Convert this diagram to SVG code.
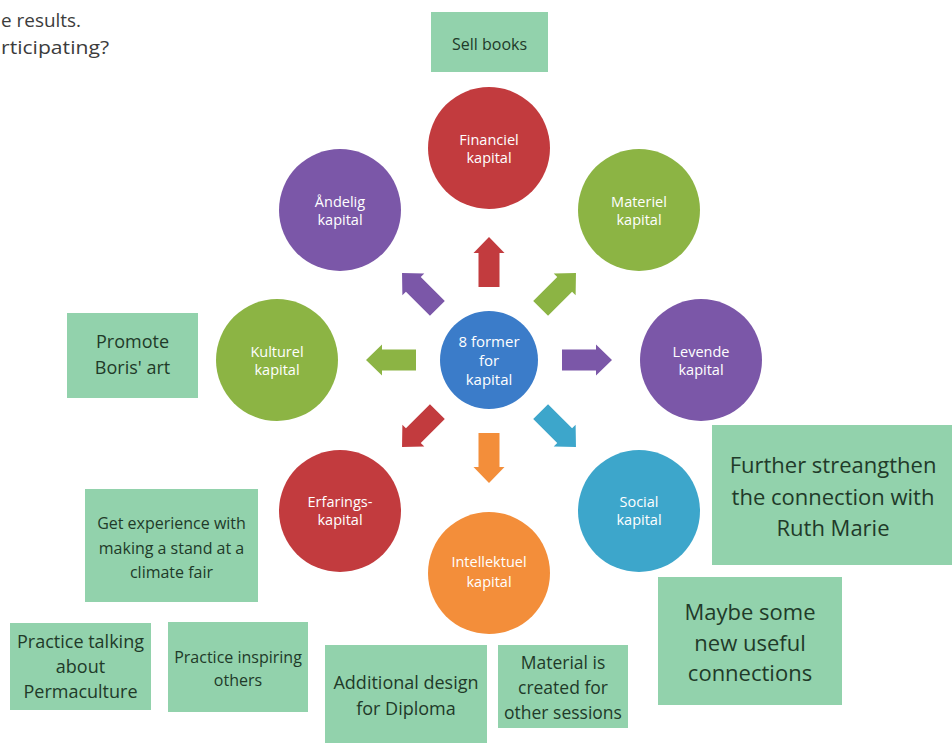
<svg xmlns="http://www.w3.org/2000/svg" width="952" height="744" viewBox="0 0 952 744">
<style>
.ct{font-family:"Open Sans","Liberation Sans",sans-serif;font-size:14.5px;fill:#ffffff;text-anchor:middle}
.bt{font-family:"Open Sans","Liberation Sans",sans-serif;fill:#213a29;text-anchor:middle}
.box{fill:#92d2ac}
.top{font-family:"Open Sans","Liberation Sans",sans-serif;font-size:19px;fill:#3c3c3c}
</style>
<defs>
<path id="arr" d="M73,-10.5 H107 V-15.5 L123,0 L107,15.5 V10.5 H73 Z"/>
</defs>
<rect width="952" height="744" fill="#ffffff"/>
<g id="intro">
<text class="top" x="1" y="27" textLength="80" lengthAdjust="spacingAndGlyphs">e results.</text>
<text class="top" x="1" y="54" textLength="108" lengthAdjust="spacingAndGlyphs">rticipating?</text>
</g>
<g id="connectors">
<use href="#arr" fill="#7b57a8" transform="translate(489,360) rotate(0)"/>
<use href="#arr" fill="#3da6cb" transform="translate(489,360) rotate(45)"/>
<use href="#arr" fill="#f38e3a" transform="translate(489,360) rotate(90)"/>
<use href="#arr" fill="#c23b3e" transform="translate(489,360) rotate(135)"/>
<use href="#arr" fill="#8cb444" transform="translate(489,360) rotate(180)"/>
<use href="#arr" fill="#7b57a8" transform="translate(489,360) rotate(225)"/>
<use href="#arr" fill="#c23b3e" transform="translate(489,360) rotate(270)"/>
<use href="#arr" fill="#8cb444" transform="translate(489,360) rotate(315)"/>
</g>
<g id="center">
<circle cx="489" cy="360" r="49" fill="#3b7cc9"/>
<text class="ct" x="489" y="347" style="font-size:15px">8 former</text>
<text class="ct" x="489" y="366" style="font-size:15px">for</text>
<text class="ct" x="489" y="385" style="font-size:15px">kapital</text>
</g>
<g id="financiel">
<circle cx="489" cy="148" r="61" fill="#c23b3e"/>
<text class="ct" x="489" y="145">Financiel</text>
<text class="ct" x="489" y="163">kapital</text>
</g>
<g id="materiel">
<circle cx="639" cy="210" r="61" fill="#8cb444"/>
<text class="ct" x="639" y="207">Materiel</text>
<text class="ct" x="639" y="225">kapital</text>
</g>
<g id="levende">
<circle cx="701" cy="360" r="61" fill="#7b57a8"/>
<text class="ct" x="701" y="357">Levende</text>
<text class="ct" x="701" y="375">kapital</text>
</g>
<g id="social">
<circle cx="639" cy="511" r="61" fill="#3da6cb"/>
<text class="ct" x="639" y="507">Social</text>
<text class="ct" x="639" y="525">kapital</text>
</g>
<g id="intellektuel">
<circle cx="489" cy="573" r="61" fill="#f38e3a"/>
<text class="ct" x="489" y="567">Intellektuel</text>
<text class="ct" x="489" y="587">kapital</text>
</g>
<g id="erfarings">
<circle cx="340" cy="511" r="61" fill="#c23b3e"/>
<text class="ct" x="340" y="507">Erfarings-</text>
<text class="ct" x="340" y="525">kapital</text>
</g>
<g id="kulturel">
<circle cx="277" cy="360" r="61" fill="#8cb444"/>
<text class="ct" x="277" y="357">Kulturel</text>
<text class="ct" x="277" y="375">kapital</text>
</g>
<g id="andelig">
<circle cx="340" cy="210" r="61" fill="#7b57a8"/>
<text class="ct" x="340" y="207">Åndelig</text>
<text class="ct" x="340" y="225">kapital</text>
</g>
<g id="sell-books">
<rect class="box" x="431" y="12" width="117" height="60"/>
<text class="bt" x="489.5" y="50" style="font-size:16px">Sell books</text>
</g>
<g id="promote">
<rect class="box" x="67" y="313" width="131" height="85"/>
<text class="bt" x="132.5" y="348" style="font-size:18px">Promote</text>
<text class="bt" x="132.5" y="374" style="font-size:18px">Boris' art</text>
</g>
<g id="further">
<rect class="box" x="712" y="425" width="240" height="140"/>
<text class="bt" x="833" y="473" style="font-size:22px">Further streangthen</text>
<text class="bt" x="833" y="505" style="font-size:22px">the connection with</text>
<text class="bt" x="833" y="536" style="font-size:22px">Ruth Marie</text>
</g>
<g id="maybe">
<rect class="box" x="658" y="577" width="184" height="128"/>
<text class="bt" x="750" y="620" style="font-size:22px">Maybe some</text>
<text class="bt" x="750" y="651" style="font-size:22px">new useful</text>
<text class="bt" x="750" y="681" style="font-size:22px">connections</text>
</g>
<g id="experience">
<rect class="box" x="85" y="489" width="173" height="113"/>
<text class="bt" x="171.5" y="529" style="font-size:16px">Get experience with</text>
<text class="bt" x="171.5" y="554" style="font-size:16px">making a stand at a</text>
<text class="bt" x="171.5" y="578" style="font-size:16px">climate fair</text>
</g>
<g id="practice-talking">
<rect class="box" x="10" y="623" width="141" height="87"/>
<text class="bt" x="80.5" y="648" style="font-size:18px">Practice talking</text>
<text class="bt" x="80.5" y="673" style="font-size:18px">about</text>
<text class="bt" x="80.5" y="698" style="font-size:18px">Permaculture</text>
</g>
<g id="practice-inspiring">
<rect class="box" x="168" y="622" width="140" height="90"/>
<text class="bt" x="238" y="663" style="font-size:16px">Practice inspiring</text>
<text class="bt" x="238" y="686" style="font-size:16px">others</text>
</g>
<g id="additional">
<rect class="box" x="325" y="645" width="162" height="98"/>
<text class="bt" x="406" y="689" style="font-size:18px">Additional design</text>
<text class="bt" x="406" y="715" style="font-size:18px">for Diploma</text>
</g>
<g id="material">
<rect class="box" x="498" y="645" width="130" height="83"/>
<text class="bt" x="563" y="669" style="font-size:17.5px">Material is</text>
<text class="bt" x="563" y="694" style="font-size:17.5px">created for</text>
<text class="bt" x="563" y="719" style="font-size:17.5px">other sessions</text>
</g>
</svg>
